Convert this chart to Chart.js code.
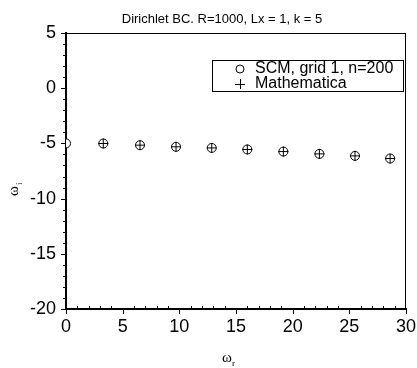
<!DOCTYPE html>
<html>
<head>
<meta charset="utf-8">
<script src="https://cdn.jsdelivr.net/npm/chart.js@4"></script>
<style>
  html, body { margin: 0; padding: 0; background: #fff; }
  #wrap { width: 417px; height: 368px; }
</style>
</head>
<body>
<div id="wrap"><canvas id="plot" width="417" height="368"></canvas></div>
<script>
// values
const omegaR = [0, 3.29, 6.53, 9.71, 12.86, 16.0, 19.18, 22.36, 25.5, 28.6];
const omegaI = [-5.0, -5.01, -5.16, -5.31, -5.41, -5.55, -5.74, -5.95, -6.13, -6.37];
// Mathematica has no point at the origin
const mathR = omegaR.slice(1);
const mathI = omegaI.slice(1);

const xTicks = [0, 5, 10, 15, 20, 25, 30];
const yTicks = [-20, -15, -10, -5, 0, 5];

const titleText = "Dirichlet BC. R=1000, Lx = 1, k = 5";
const labels = ["SCM, grid 1, n=200", "Mathematica"];

function pts(xs, ys) {
  return xs.map((x, i) => ({ x, y: ys[i] }));
}

// frame, minor ticks, title, axis titles, legend
const decor = {
  id: "decor",
  afterDraw(chart) {
    const ctx = chart.ctx;
    const a = chart.chartArea;
    const xs = chart.scales.x;
    const ys = chart.scales.y;
    ctx.save();
    ctx.strokeStyle = "#000";

    ctx.lineWidth = 1;
    ctx.beginPath();
    ctx.moveTo(a.left, a.top + 0.5);
    ctx.lineTo(a.right, a.top + 0.5);
    ctx.moveTo(a.right - 0.5, a.top);
    ctx.lineTo(a.right - 0.5, a.bottom);
    ctx.stroke();

    ctx.beginPath();
    for (let v = xs.min; v <= xs.max; v++) {
      const p = Math.round(xs.getPixelForValue(v)) + 0.5;
      if (v % 5 === 0) {
        ctx.moveTo(p, a.bottom);
        ctx.lineTo(p, a.bottom + 5);
      } else {
        ctx.moveTo(p, a.bottom);
        ctx.lineTo(p, a.bottom - 3);
      }
    }
    for (let v = ys.min; v <= ys.max; v++) {
      const p = Math.round(ys.getPixelForValue(v)) + 0.5;
      ctx.moveTo(a.left, p);
      ctx.lineTo(a.left - (v % 5 === 0 ? 5 : 3), p);
    }
    ctx.stroke();

    ctx.fillStyle = "#000";
    ctx.textBaseline = "alphabetic";

    // title
    ctx.textAlign = "center";
    ctx.font = "13px Arial, 'Liberation Sans'";
    ctx.fillText(titleText, 222, 23);
    ctx.textAlign = "left";

    // axis titles
    ctx.font = "15px 'Liberation Serif'";
    ctx.fillText("\u03c9", 222, 362);
    ctx.font = "9px 'Liberation Serif'";
    ctx.fillText("r", 232, 366);

    ctx.save();
    ctx.translate(18, 196);
    ctx.rotate(-Math.PI / 2);
    ctx.font = "15px 'Liberation Serif'";
    ctx.fillText("\u03c9", 0, 0);
    ctx.font = "9px 'Liberation Serif'";
    ctx.fillText("i", 11, 4);
    ctx.restore();

    // legend box
    const bx = 212, by = 60, bw = 191, bh = 31;
    ctx.fillStyle = "#fff";
    ctx.fillRect(bx, by, bw, bh);
    ctx.lineWidth = 1;
    ctx.strokeRect(bx + 0.5, by + 0.5, bw, bh);
    ctx.fillStyle = "#000";
    ctx.font = "16px Arial, 'Liberation Sans'";
    ctx.textBaseline = "middle";
    ctx.fillText(labels[0], 255, by + 9);
    ctx.fillText(labels[1], 255, by + 24);
    ctx.beginPath();
    ctx.arc(240, by + 9, 4, 0, Math.PI * 2);
    ctx.stroke();
    ctx.beginPath();
    ctx.moveTo(235, by + 24.5);
    ctx.lineTo(245, by + 24.5);
    ctx.moveTo(240.5, by + 19);
    ctx.lineTo(240.5, by + 29);
    ctx.stroke();
    ctx.restore();
  },
};

new Chart(document.getElementById("plot"), {
  type: "scatter",
  data: {
    datasets: [
      {
        label: labels[0],
        data: pts(omegaR, omegaI),
        order: 2,
        clip: { left: 0, top: 8, right: 8, bottom: 8 },
        pointStyle: "circle",
        pointRadius: 4.5,
        pointBackgroundColor: "#fff",
        pointBorderColor: "#000",
        pointBorderWidth: 1,
      },
      {
        label: labels[1],
        data: pts(mathR, mathI),
        order: 1,
        pointStyle: "cross",
        pointRadius: 5,
        pointBorderColor: "#000",
        pointBorderWidth: 1,
      },
    ],
  },
  options: {
    responsive: false,
    animation: false,
    layout: { padding: { top: 33, right: 0, bottom: 0, left: 0 } },
    plugins: {
      legend: { display: false },
      tooltip: { enabled: false },
      title: { display: false },
    },
    scales: {
      x: {
        type: "linear",
        min: 0,
        max: 30,
        afterBuildTicks: (s) => { s.ticks = xTicks.map((v) => ({ value: v })); },
        afterFit: (s) => { s.height = 59; s.paddingRight = 11; s.paddingLeft = 0; },
        grid: { display: false, drawTicks: false },
        border: { display: true, color: "#000", width: 2 },
        ticks: {
          color: "#000",
          padding: 7,
          font: { family: "Arial, 'Liberation Sans'", size: 18 },
          maxRotation: 0,
        },
      },
      y: {
        type: "linear",
        min: -20,
        max: 5,
        afterBuildTicks: (s) => { s.ticks = yTicks.map((v) => ({ value: v })); },
        afterFit: (s) => { s.width = 66; },
        grid: { display: false, drawTicks: false },
        border: { display: true, color: "#000", width: 2 },
        ticks: {
          color: "#000",
          padding: 10,
          font: { family: "Arial, 'Liberation Sans'", size: 18 },
        },
      },
    },
  },
  plugins: [decor],
});
</script>
</body>
</html>
